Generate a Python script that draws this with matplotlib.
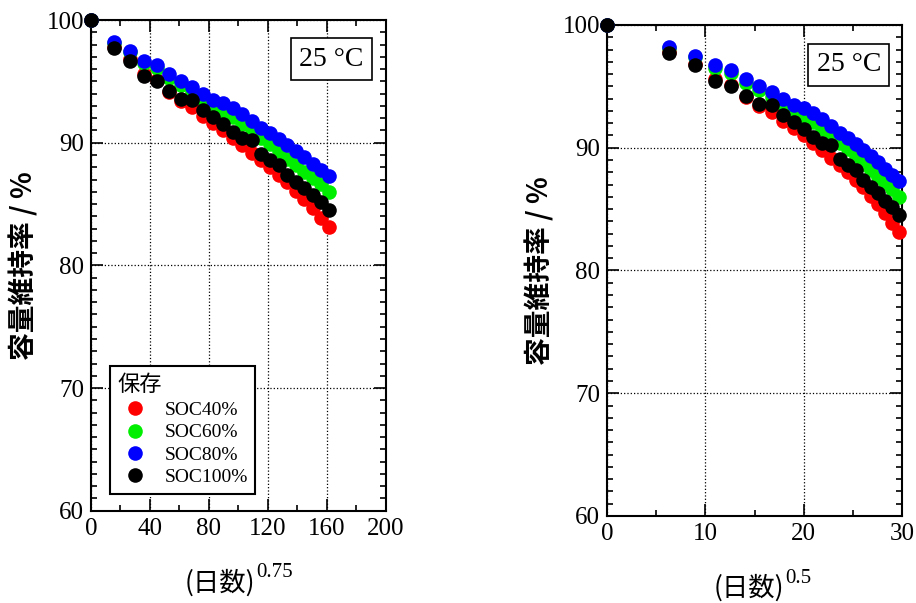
import numpy as np
import matplotlib
matplotlib.use("Agg")
import matplotlib.pyplot as plt
from matplotlib.ticker import MultipleLocator

# storage days (every 40 days)
days = [0, 40, 80, 120, 160, 200, 240, 280, 320, 360, 400, 440,
        480, 520, 560, 600, 640, 680, 720, 760, 800, 840, 880]

# capacity retention (%)
soc40 = [100, 97.8, 96.8, 95.6, 95.1, 94.1, 93.4, 92.9, 92.2, 91.6, 91.0, 90.4,
         89.8, 89.2, 88.6, 88.0, 87.4, 86.8, 86.1, 85.4, 84.7, 83.9, 83.1]
soc60 = [100, 98.1, 97.4, 96.5, 96.1, 95.3, 94.7, 94.1, 93.6, 93.0, 92.6, 92.1,
         91.5, 91.0, 90.4, 89.9, 89.3, 88.7, 88.2, 87.6, 87.1, 86.6, 86.0]
soc80 = [100, 98.2, 97.5, 96.7, 96.3, 95.6, 95.0, 94.5, 94.0, 93.5, 93.2, 92.8,
         92.3, 91.8, 91.2, 90.8, 90.3, 89.8, 89.3, 88.8, 88.3, 87.8, 87.3]
soc100 = [100, 97.7, 96.7, 95.4, 95.0, 94.2, 93.6, 93.5, 92.7, 92.1, 91.5, 90.9,
          90.4, 90.2, 89.1, 88.6, 88.2, 87.4, 86.8, 86.3, 85.7, 85.2, 84.5]

series = [('SOC40%', soc40, '#ff0000'),
          ('SOC60%', soc60, '#00ee00'),
          ('SOC80%', soc80, '#0000ff'),
          ('SOC100%', soc100, '#000000')]

CJK = ['Noto Sans CJK JP', 'DejaVu Sans']
SERIF = 'Liberation Serif'

fig = plt.figure(figsize=(9.16, 6.03), dpi=100)
ax1 = fig.add_axes([0.0993, 0.153, 0.322, 0.8138])
ax2 = fig.add_axes([0.6627, 0.1443, 0.322, 0.8143])

d = np.array(days, dtype=float)
setups = [(ax1, d ** 0.75, (0, 200), 40, 20, '0.75', 0.437, 0.814, 0.9205),
          (ax2, d ** 0.5, (0, 30), 10, 5, '0.5', 0.48, 0.820, 0.9185)]

for ax, x, xlim, xmaj, xmin, sup, lx, bx, by in setups:
    for name, y, c in series:
        ax.plot(x, y, 'o', color=c, ms=10.5, mec='none', label=name, clip_on=False, zorder=3)
    ax.set_xlim(*xlim)
    ax.set_ylim(60, 100)
    ax.xaxis.set_major_locator(MultipleLocator(xmaj))
    ax.xaxis.set_minor_locator(MultipleLocator(xmin))
    ax.yaxis.set_major_locator(MultipleLocator(10))
    ax.yaxis.set_minor_locator(MultipleLocator(1))
    ax.tick_params(which='both', direction='in', top=True, right=True, width=1.2)
    ax.tick_params(which='major', length=8.5, labelsize=18, pad=5)
    ax.tick_params(which='minor', length=4.5)
    for lbl in ax.get_xticklabels() + ax.get_yticklabels():
        lbl.set_fontfamily(SERIF)
    for sp in ax.spines.values():
        sp.set_linewidth(1.5)
    ax.grid(True, which='major', linestyle=':', color='black', lw=0.9)
    ax.set_axisbelow(True)

    xl = ax.set_xlabel('(日数)', family=CJK, fontsize=19, labelpad=21)
    xl.set_x(lx)
    ax.annotate(sup, xy=(1.0, 0.85), xycoords=xl, xytext=(1, 0), textcoords='offset points',
                ha='left', va='center', family=SERIF, fontsize=15)
    ax.set_ylabel('容量維持率 / %', family=CJK, fontsize=20, fontweight='bold', labelpad=6)

    ax.text(bx, by, '25 °C', transform=ax.transAxes, ha='center', va='center',
            family=SERIF, fontsize=20,
            bbox=dict(boxstyle='square,pad=0.3', fc='white', ec='black', lw=1.2), zorder=5)

leg = ax1.legend(loc='lower left', bbox_to_anchor=(0.064, 0.034), borderaxespad=0,
                 title='保存', alignment='left', prop={'family': SERIF, 'size': 14},
                 title_fontproperties={'family': CJK, 'size': 16},
                 frameon=True, fancybox=False, edgecolor='black', framealpha=1,
                 borderpad=0.4, handlelength=1.8, handletextpad=0.6, labelspacing=0.25)
leg.get_frame().set_linewidth(1.5)

fig.savefig('out.png', dpi=100)
